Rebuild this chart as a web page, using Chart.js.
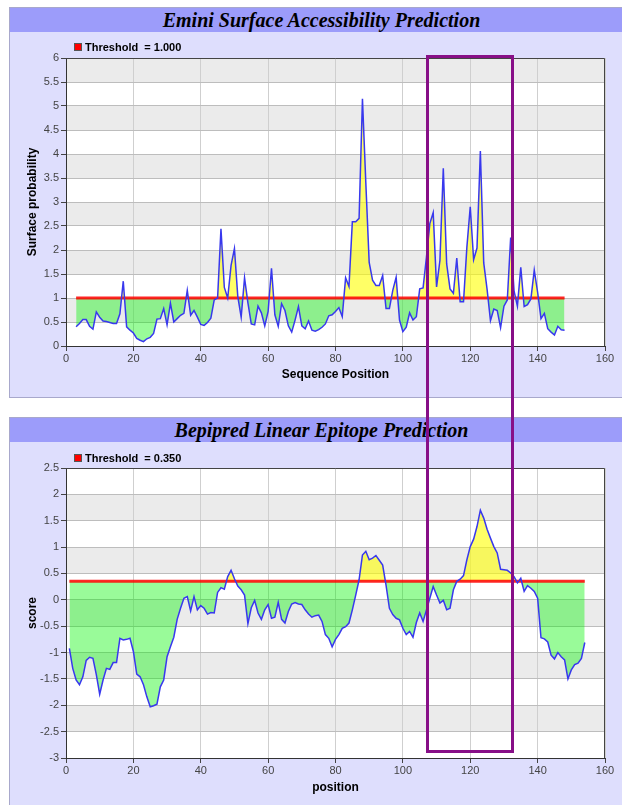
<!DOCTYPE html>
<html>
<head>
<meta charset="utf-8">
<title>Emini / Bepipred</title>
<script src="https://cdn.jsdelivr.net/npm/chart.js@4.4.1/dist/chart.umd.min.js"></script>
<style>
  body { margin: 0; width: 622px; height: 805px; overflow: hidden; position: relative; background: #fff;
         font-family: "Liberation Sans", Arial, sans-serif; }
  .panel { position: absolute; left: 9px; width: 625px; background: #dedefd; border: 1px solid #a8a8cc; box-sizing: border-box; }
  .panel .bar { height: 24px; background: #9c9cfa; text-align: center; color: #000;
                font: italic bold 20px "Liberation Serif", "Times New Roman", serif; line-height: 25px; }
  .legend { position: absolute; left: 74px; font-weight: bold; font-size: 11px; white-space: pre; line-height: 13px; color: #000; z-index: 2; }
  .legend i { display: inline-block; width: 6px; height: 6px; background: #f00; border: 1px solid #555; margin-right: 3px; }
  canvas { position: absolute; left: 10px; }
  #frame { position: absolute; left: 426px; top: 55px; width: 88px; height: 698px; border: 3px solid #870f87; box-sizing: border-box; z-index: 3; }
</style>
</head>
<body>
<div class="panel" style="top:7px;height:391px"><div class="bar">Emini Surface Accessibility Prediction</div></div>
<div class="panel" style="top:417px;height:400px"><div class="bar">Bepipred Linear Epitope Prediction</div></div>
<div class="legend" style="top:41px"><i></i>Threshold  = 1.000</div>
<div class="legend" style="top:452px"><i></i>Threshold  = 0.350</div>
<canvas id="emini" width="612" height="352" style="top:44px"></canvas>
<canvas id="bepipred" width="612" height="351" style="top:454px"></canvas>
<div id="frame"></div>
<script>
// Emini surface accessibility, residues 3..148
const eminiStart = 3;
const eminiScores = [
  0.40, 0.47, 0.55, 0.55, 0.41, 0.35, 0.71, 0.60, 0.52, 0.51,
  0.49, 0.47, 0.47, 0.67, 1.35, 0.40, 0.33, 0.27, 0.16, 0.12,
  0.09, 0.15, 0.18, 0.26, 0.56, 0.57, 0.78, 0.44, 0.89, 0.50,
  0.57, 0.64, 0.68, 1.16, 0.64, 0.74, 0.60, 0.45, 0.43, 0.49,
  0.58, 0.96, 1.00, 2.44, 1.22, 1.00, 1.68, 2.03, 1.03, 0.60,
  1.42, 0.90, 0.46, 0.44, 0.83, 0.69, 0.42, 0.72, 1.62, 0.65,
  0.41, 0.88, 0.74, 0.42, 0.29, 0.54, 0.82, 0.42, 0.36, 0.52,
  0.33, 0.31, 0.34, 0.39, 0.46, 0.63, 0.65, 0.72, 0.80, 0.61,
  1.42, 1.24, 2.59, 2.59, 2.66, 5.15, 3.40, 1.74, 1.37, 1.26,
  1.26, 1.47, 0.78, 0.78, 1.16, 1.43, 0.54, 0.30, 0.39, 0.69,
  0.54, 0.61, 1.19, 1.21, 1.85, 2.55, 2.78, 1.23, 1.78, 3.70,
  1.71, 1.19, 1.10, 1.83, 0.92, 0.92, 2.06, 2.90, 1.80, 2.04,
  4.06, 1.73, 1.18, 0.53, 0.77, 0.74, 0.38, 0.83, 0.96, 2.26,
  1.15, 0.83, 1.64, 0.82, 0.86, 0.98, 1.58, 1.12, 0.57, 0.68,
  0.36, 0.29, 0.23, 0.41, 0.34, 0.33
];
const eminiThreshold = 1.0;
const eminiYTicks = [0, 0.5, 1, 1.5, 2, 2.5, 3, 3.5, 4, 4.5, 5, 5.5, 6];

// Bepipred linear epitope, residues 1..154
const bepipredStart = 1;
const bepipredScores = [
  -0.92, -1.30, -1.52, -1.61, -1.46, -1.15, -1.09, -1.11, -1.42, -1.79,
  -1.52, -1.30, -1.32, -1.19, -1.19, -0.73, -0.76, -0.75, -0.73, -0.98,
  -1.41, -1.46, -1.61, -1.84, -2.03, -2.01, -1.98, -1.65, -1.52, -1.08,
  -0.89, -0.71, -0.37, -0.16, 0.03, 0.06, -0.21, 0.06, -0.19, -0.11,
  -0.16, -0.27, -0.24, -0.25, 0.14, 0.23, 0.20, 0.44, 0.56, 0.40,
  0.26, 0.19, 0.09, -0.45, -0.15, -0.01, -0.25, -0.37, -0.19, -0.09,
  -0.35, -0.33, -0.05, -0.37, -0.44, -0.22, -0.08, -0.05, -0.08, -0.09,
  -0.19, -0.27, -0.33, -0.30, -0.29, -0.41, -0.66, -0.73, -0.89, -0.75,
  -0.66, -0.54, -0.51, -0.44, -0.19, 0.09, 0.38, 0.85, 0.92, 0.76,
  0.79, 0.84, 0.75, 0.66, 0.28, -0.16, -0.28, -0.35, -0.38, -0.54,
  -0.66, -0.60, -0.71, -0.43, -0.25, -0.41, -0.19, 0.03, 0.25, 0.09,
  -0.06, -0.01, -0.19, -0.16, 0.19, 0.35, 0.39, 0.46, 0.76, 1.01,
  1.15, 1.39, 1.70, 1.55, 1.34, 1.17, 1.01, 0.89, 0.58, 0.57,
  0.56, 0.51, 0.44, 0.32, 0.41, 0.16, 0.27, 0.22, 0.16, 0.03,
  -0.72, -0.74, -0.80, -1.05, -1.12, -1.00, -1.08, -1.14, -1.50, -1.33,
  -1.23, -1.20, -1.11, -0.81
];
const bepipredThreshold = 0.35;
const bepipredYTicks = [-3, -2.5, -2, -1.5, -1, -0.5, 0, 0.5, 1, 1.5, 2, 2.5];

const positionTicks = [0, 20, 40, 60, 80, 100, 120, 140, 160];

const fontFamily = '"Liberation Sans", Arial, sans-serif';
const tickFont = { family: fontFamily, size: 11 };
const titleFont = { family: fontFamily, size: 12, weight: 'bold' };

// white / grey bands between every other y gridline, and the dark frame on top and right
const bandsPlugin = {
  id: 'bands',
  beforeDraw(chart) {
    const { ctx, chartArea: a, scales: { y } } = chart;
    const vals = y.ticks.map(t => t.value);
    ctx.save();
    ctx.fillStyle = '#ffffff';
    ctx.fillRect(a.left, a.top, a.width, a.height);
    ctx.fillStyle = '#ebebeb';
    for (let i = 2; i < vals.length; i += 2) {
      const y0 = y.getPixelForValue(vals[i - 1]);
      const y1 = y.getPixelForValue(vals[i]);
      ctx.fillRect(a.left, y1, a.width, y0 - y1);
    }
    ctx.restore();
  },
  afterDraw(chart) {
    const { ctx, chartArea: a } = chart;
    ctx.save();
    ctx.strokeStyle = '#444';
    ctx.lineWidth = 1;
    ctx.beginPath();
    ctx.moveTo(a.left, a.top + 0.5);
    ctx.lineTo(a.right - 0.5, a.top + 0.5);
    ctx.lineTo(a.right - 0.5, a.bottom);
    ctx.stroke();
    ctx.restore();
  }
};

function makeChart(id, scores, start, threshold, yTicks, yTitle, xTitle, xAxisHeight, xTitlePad) {
  const points = scores.map((v, i) => ({ x: start + i, y: v }));
  const end = start + scores.length - 1;
  return new Chart(document.getElementById(id), {
    type: 'line',
    data: {
      datasets: [{
        label: 'score',
        data: points,
        borderColor: '#3838ee',
        borderWidth: 1.5,
        pointRadius: 0,
        tension: 0,
        fill: { target: { value: threshold }, above: 'rgba(255,255,0,0.6)', below: 'rgba(0,245,0,0.4)' }
      }, {
        label: 'Threshold',
        data: [{ x: start, y: threshold }, { x: end, y: threshold }],
        borderColor: 'rgba(255,0,0,0.85)',
        borderWidth: 3,
        pointRadius: 0,
        fill: false
      }]
    },
    options: {
      responsive: false,
      animation: false,
      devicePixelRatio: 1,
      layout: { padding: { top: 14, right: 17, left: 0, bottom: 0 } },
      plugins: {
        legend: { display: false },
        tooltip: { enabled: false },
        filler: { drawTime: 'beforeDatasetsDraw' }
      },
      scales: {
        x: {
          type: 'linear',
          min: positionTicks[0],
          max: positionTicks[positionTicks.length - 1],
          afterBuildTicks: s => { s.ticks = positionTicks.map(v => ({ value: v })); },
          afterFit: s => { s.height = xAxisHeight; },
          grid: { color: '#cfcfcf', tickColor: '#444', tickLength: 5 },
          border: { color: '#333' },
          ticks: { padding: 1, color: '#444', font: tickFont, maxRotation: 0, callback: v => String(v) },
          title: { display: true, text: xTitle, color: '#000', font: titleFont, padding: { top: 0, bottom: xTitlePad } }
        },
        y: {
          min: yTicks[0],
          max: yTicks[yTicks.length - 1],
          afterBuildTicks: s => { s.ticks = yTicks.map(v => ({ value: v })); },
          afterFit: s => { s.width = 56; },
          grid: { color: '#bdbdbd', tickColor: '#444', tickLength: 5 },
          border: { color: '#333' },
          ticks: { padding: 2, color: '#444', font: tickFont, callback: v => String(v) },
          title: { display: true, text: yTitle, color: '#000', font: titleFont, padding: { top: 15, bottom: 0 } }
        }
      }
    },
    plugins: [bandsPlugin]
  });
}

makeChart('emini', eminiScores, eminiStart, eminiThreshold, eminiYTicks,
  'Surface probability', 'Sequence Position', 50, 14);
makeChart('bepipred', bepipredScores, bepipredStart, bepipredThreshold, bepipredYTicks,
  'score', 'position', 47, 10);
</script>
</body>
</html>
